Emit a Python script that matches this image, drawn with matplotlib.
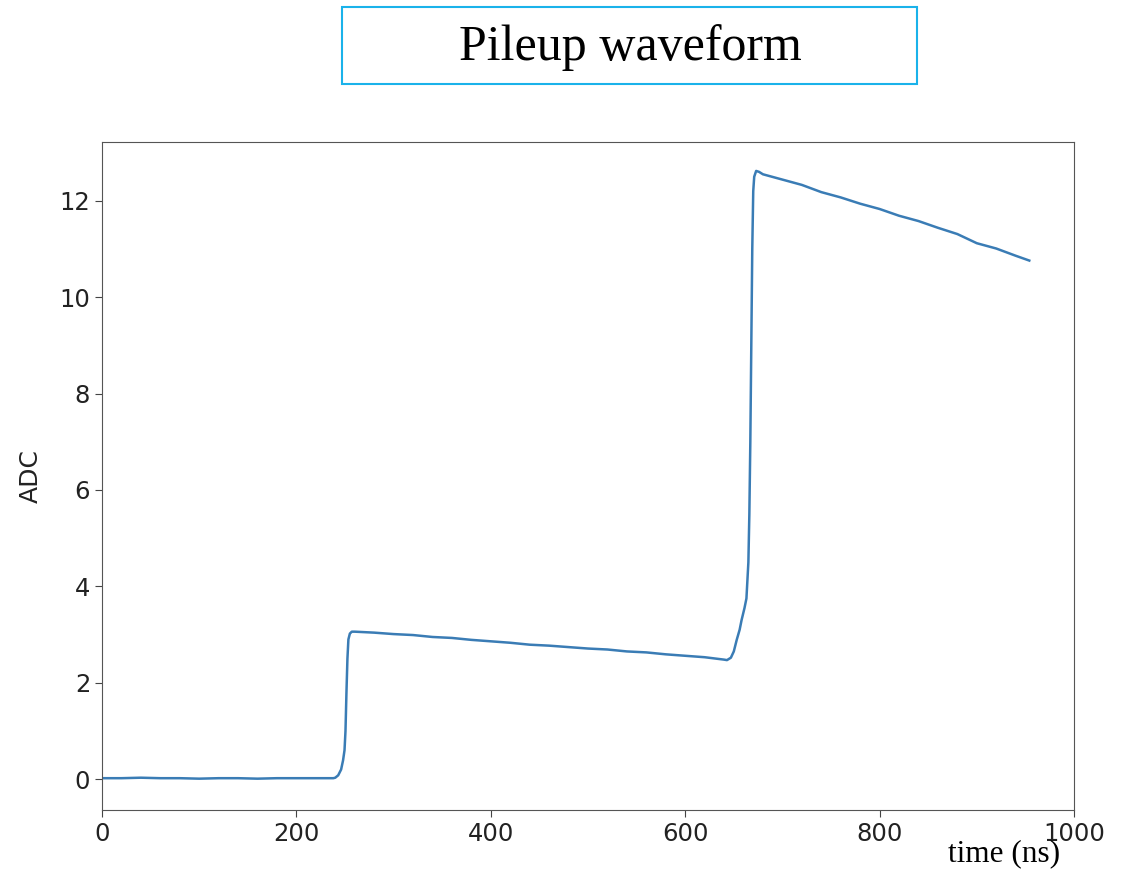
import matplotlib.pyplot as plt
from matplotlib.patches import Rectangle

# waveform samples (time in ns, ADC)
t_base = [0, 20, 40, 60, 80, 100, 120, 140, 160, 180, 200, 220, 238]
adc_base = [0.02, 0.02, 0.03, 0.02, 0.02, 0.01, 0.02, 0.02, 0.01, 0.02, 0.02, 0.02, 0.02]

t_rise1 = [240, 243, 246, 248, 249.5, 250.5, 251.5, 252.5, 253.5, 255, 257]
adc_rise1 = [0.03, 0.08, 0.2, 0.39, 0.6, 1.0, 1.8, 2.5, 2.9, 3.02, 3.06]

t_decay1 = [260, 280, 300, 320, 340, 360, 380, 400, 420, 440, 460, 480,
            500, 520, 540, 560, 580, 600, 620, 640]
adc_decay1 = [3.06, 3.04, 3.01, 2.99, 2.95, 2.93, 2.89, 2.86, 2.83, 2.79, 2.77, 2.74,
              2.71, 2.69, 2.65, 2.63, 2.59, 2.56, 2.53, 2.48]

t_rise2 = [643, 647, 650, 653, 656, 658, 661, 663, 665, 666, 667, 668, 669, 670, 671, 673]
adc_rise2 = [2.47, 2.52, 2.65, 2.89, 3.1, 3.3, 3.55, 3.75, 4.5, 5.5, 7.0, 9.0, 11.0, 12.2, 12.5, 12.62]

t_decay2 = [676, 680, 700, 720, 740, 760, 780, 800, 820, 840, 860, 880, 900, 920, 940, 954]
adc_decay2 = [12.6, 12.55, 12.44, 12.33, 12.18, 12.07, 11.94, 11.83, 11.69, 11.58, 11.44, 11.31,
              11.12, 11.01, 10.86, 10.76]

t = t_base + t_rise1 + t_decay1 + t_rise2 + t_decay2
adc = adc_base + adc_rise1 + adc_decay1 + adc_rise2 + adc_decay2

fig = plt.figure(figsize=(11.27, 8.71), dpi=100)
ax = fig.add_axes([102 / 1127, 1 - 810 / 871, 972 / 1127, 668 / 871])

ax.plot(t, adc, color='#3a7cb5', linewidth=1.8)

ax.set_xlim(0, 1000)
ax.set_ylim(-0.64, 13.22)
ax.set_xticks([0, 200, 400, 600, 800, 1000])
ax.set_yticks([0, 2, 4, 6, 8, 10, 12])
ax.tick_params(labelsize=17.5, colors='#444444', labelcolor='#222222', length=5)
for s in ax.spines.values():
    s.set_color('#555555')
ax.set_ylabel('ADC', fontsize=18, color='#222222', labelpad=12)

# title box on top
fig.patches.append(Rectangle((342 / 1127, 1 - 84 / 871), 575 / 1127, 77 / 871,
                             transform=fig.transFigure, fill=False,
                             edgecolor='#1ab2ea', linewidth=1.5))
fig.text(630 / 1127, 1 - 48 / 871, 'Pileup waveform', ha='center', va='center',
         fontsize=36, family='Liberation Serif')

fig.text(1004 / 1127, 1 - 861 / 871, 'time (ns)', ha='center', va='baseline',
         fontsize=22.5, family='Liberation Serif')

fig.savefig('out.png', dpi=100)
